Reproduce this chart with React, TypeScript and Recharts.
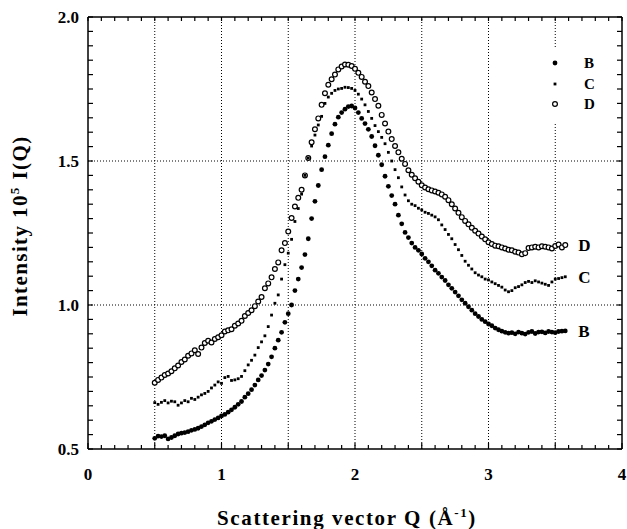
import React from 'react'
import { ScatterChart, Scatter, XAxis, YAxis, ReferenceLine, Label } from 'recharts'

// scattering vector Q (1/Å), one reading every 0.025
const Q = [
  0.5, 0.525, 0.55, 0.575, 0.6, 0.625, 0.65, 0.675, 0.7, 0.725,
  0.75, 0.775, 0.8, 0.825, 0.85, 0.875, 0.9, 0.925, 0.95, 0.975,
  1.0, 1.025, 1.05, 1.075, 1.1, 1.125, 1.15, 1.175, 1.2, 1.225,
  1.25, 1.275, 1.3, 1.325, 1.35, 1.375, 1.4, 1.425, 1.45, 1.475,
  1.5, 1.525, 1.55, 1.575, 1.6, 1.625, 1.65, 1.675, 1.7, 1.725,
  1.75, 1.775, 1.8, 1.825, 1.85, 1.875, 1.9, 1.925, 1.95, 1.975,
  2.0, 2.025, 2.05, 2.075, 2.1, 2.125, 2.15, 2.175, 2.2, 2.225,
  2.25, 2.275, 2.3, 2.325, 2.35, 2.375, 2.4, 2.425, 2.45, 2.475,
  2.5, 2.525, 2.55, 2.575, 2.6, 2.625, 2.65, 2.675, 2.7, 2.725,
  2.75, 2.775, 2.8, 2.825, 2.85, 2.875, 2.9, 2.925, 2.95, 2.975,
  3.0, 3.025, 3.05, 3.075, 3.1, 3.125, 3.15, 3.175, 3.2, 3.225,
  3.25, 3.275, 3.3, 3.325, 3.35, 3.375, 3.4, 3.425, 3.45, 3.475,
  3.5, 3.525, 3.55, 3.575,
]

const B = [
  0.537, 0.545, 0.543, 0.546, 0.535, 0.54, 0.546, 0.552, 0.555, 0.557,
  0.56, 0.565, 0.568, 0.572, 0.578, 0.584, 0.591, 0.596, 0.602, 0.608,
  0.615, 0.62, 0.628, 0.636, 0.645, 0.655, 0.665, 0.68, 0.692, 0.706,
  0.722, 0.74, 0.755, 0.774, 0.795, 0.82, 0.85, 0.878, 0.905, 0.94,
  0.97, 1.0, 1.05, 1.09, 1.13, 1.175, 1.23, 1.3, 1.36, 1.415,
  1.47, 1.515, 1.555, 1.595, 1.628, 1.652, 1.668, 1.68, 1.689, 1.691,
  1.684, 1.668, 1.648, 1.63, 1.61, 1.585, 1.553, 1.52, 1.487, 1.447,
  1.412, 1.38, 1.35, 1.312, 1.282, 1.252, 1.234, 1.215, 1.2, 1.19,
  1.177, 1.162, 1.15, 1.136, 1.121, 1.11, 1.097, 1.085, 1.07, 1.058,
  1.045, 1.032, 1.018, 1.006, 0.994, 0.982, 0.97, 0.96, 0.95, 0.942,
  0.934, 0.928, 0.92, 0.914, 0.909, 0.905, 0.902, 0.904, 0.9, 0.906,
  0.902, 0.899, 0.905, 0.908, 0.901, 0.906, 0.907, 0.903, 0.908, 0.906,
  0.904, 0.908, 0.909, 0.91,
]

const C = [
  0.661, 0.655, 0.662, 0.668, 0.66, 0.666, 0.664, 0.652, 0.66, 0.668,
  0.664, 0.676, 0.672, 0.68, 0.688, 0.693, 0.7, 0.712, 0.722, 0.733,
  0.728, 0.748, 0.752, 0.738, 0.74, 0.744, 0.752, 0.772, 0.792, 0.808,
  0.826, 0.852, 0.872, 0.893, 0.925, 0.965, 1.006, 1.035, 1.09, 1.14,
  1.18, 1.228, 1.29, 1.335, 1.385, 1.45, 1.51, 1.552, 1.59, 1.625,
  1.655, 1.7, 1.722, 1.735, 1.745, 1.75, 1.752, 1.756, 1.755, 1.752,
  1.745, 1.732, 1.715, 1.695, 1.672, 1.648, 1.623, 1.602, 1.582, 1.56,
  1.53, 1.5, 1.47, 1.442, 1.41, 1.382, 1.362, 1.35, 1.345, 1.336,
  1.33, 1.322, 1.318, 1.312, 1.306, 1.296, 1.278, 1.262, 1.245, 1.23,
  1.21, 1.192, 1.172, 1.152, 1.138, 1.125, 1.112, 1.104, 1.098, 1.09,
  1.087, 1.08, 1.074, 1.068, 1.062, 1.052, 1.046, 1.05, 1.06, 1.064,
  1.07, 1.078, 1.082, 1.078, 1.084, 1.08, 1.076, 1.072, 1.068, 1.08,
  1.09, 1.092, 1.095, 1.098,
]

const D = [
  0.73, 0.74, 0.748, 0.757, 0.762, 0.77, 0.78, 0.79, 0.802, 0.811,
  0.824, 0.832, 0.843, 0.83, 0.852, 0.868, 0.876, 0.87, 0.882, 0.888,
  0.895, 0.908, 0.912, 0.916, 0.928, 0.936, 0.945, 0.962, 0.972, 0.982,
  0.996, 1.012, 1.028, 1.058, 1.075, 1.096, 1.125, 1.148, 1.19, 1.215,
  1.255, 1.302, 1.342, 1.372, 1.4, 1.45, 1.51, 1.565, 1.61, 1.648,
  1.695, 1.735, 1.765, 1.784, 1.8, 1.818, 1.828, 1.835, 1.834, 1.83,
  1.82, 1.806, 1.792, 1.775, 1.76, 1.738, 1.715, 1.692, 1.66, 1.63,
  1.602, 1.576, 1.552, 1.53, 1.508, 1.49, 1.468, 1.452, 1.44, 1.428,
  1.416, 1.408, 1.402, 1.398, 1.394, 1.39, 1.384, 1.376, 1.364, 1.35,
  1.335, 1.32, 1.305, 1.292, 1.28, 1.268, 1.258, 1.248, 1.238, 1.228,
  1.218, 1.212, 1.206, 1.204, 1.2, 1.196, 1.192, 1.19, 1.185, 1.182,
  1.176, 1.18, 1.198, 1.2, 1.202, 1.2, 1.204, 1.202, 1.2, 1.196,
  1.205, 1.21, 1.2, 1.208,
]

const X_GRID = [0.5, 1, 1.5, 2, 2.5, 3, 3.5]
const Y_GRID = [1, 1.5]
const X_LABELS = [0, 1, 2, 3, 4]
const Y_LABELS = [0.5, 1, 1.5, 2]
const X_MINOR = Array.from({ length: 41 }, (_, i) => +(i * 0.1).toFixed(1))
const Y_MINOR = Array.from({ length: 31 }, (_, i) => +(0.5 + i * 0.05).toFixed(2))

const FONT = '"Liberation Serif", "Times New Roman", serif'
const LAST_Q = Q[Q.length - 1]

const W = 627
const H = 529
const M = { top: 17, right: 5, bottom: 79, left: 87 }
const PLOT_TOP = M.top
const PLOT_RIGHT = W - M.right
const X_MARGIN = 19
const Y_MARGIN = 9

const toPoints = (vals: number[]) => Q.map((q, i) => ({ q, v: vals[i] }))

function marker(kind: string, cx: number, cy: number) {
  if (kind === 'B') return <circle cx={cx} cy={cy} r={2.4} fill="#000" />
  if (kind === 'C') return <rect x={cx - 1.4} y={cy - 1.4} width={2.8} height={2.8} fill="#000" />
  return <circle cx={cx} cy={cy} r={2.4} fill="#fff" stroke="#000" strokeWidth={1.2} />
}

const makeShape = (kind: string) => (props: any) => {
  const { cx, cy, payload } = props
  return (
    <g>
      {marker(kind, cx, cy)}
      {payload && payload.q === LAST_Q && (
        <text x={cx + 13} y={cy + 6} fontFamily={FONT} fontWeight="bold" fontSize={17} fill="#000">
          {kind}
        </text>
      )}
    </g>
  )
}

const isHalf = (v: number) => Math.abs(v * 2 - Math.round(v * 2)) < 1e-6

// bottom ticks point up into the plot; the same tick also marks the top border
function XTick(props: any) {
  const { x, y, payload } = props
  const v = payload.value
  const ay = y - X_MARGIN
  const len = isHalf(v) ? 6 : 4
  return (
    <g>
      <line x1={x} x2={x} y1={ay} y2={ay - len} stroke="#000" strokeWidth={1.2} />
      <line x1={x} x2={x} y1={PLOT_TOP} y2={PLOT_TOP + 4} stroke="#000" strokeWidth={1.2} />
      {X_LABELS.some((l) => Math.abs(l - v) < 1e-6) && (
        <text x={x} y={y} dy="0.71em" textAnchor="middle" fontFamily={FONT} fontWeight="bold" fontSize={17} fill="#000">
          {v}
        </text>
      )}
    </g>
  )
}

function YTick(props: any) {
  const { x, y, payload } = props
  const v = payload.value
  const ax = x + Y_MARGIN
  return (
    <g>
      <line x1={ax} x2={ax + 5} y1={y} y2={y} stroke="#000" strokeWidth={1.2} />
      <line x1={PLOT_RIGHT - 5} x2={PLOT_RIGHT} y1={y} y2={y} stroke="#000" strokeWidth={1.2} />
      {Y_LABELS.some((l) => Math.abs(l - v) < 1e-6) && (
        <text x={x} y={y} dy="0.36em" textAnchor="end" fontFamily={FONT} fontWeight="bold" fontSize={17} fill="#000">
          {v.toFixed(1)}
        </text>
      )}
    </g>
  )
}

const SERIES = [
  { name: 'D', values: D },
  { name: 'C', values: C },
  { name: 'B', values: B },
]

const LEGEND = ['B', 'C', 'D']

const axisLine = { stroke: '#000', strokeWidth: 1.5 }

export default function App() {
  return (
    <div style={{ position: 'absolute', left: 0, top: 0, width: W, height: H, background: '#fff' }}>
      <ScatterChart width={W} height={H} margin={M}>
        {X_GRID.map((g) => (
          <ReferenceLine key={'x' + g} x={g} stroke="#000" strokeDasharray="1 2" />
        ))}
        {Y_GRID.map((g) => (
          <ReferenceLine key={'y' + g} y={g} stroke="#000" strokeDasharray="1 2" />
        ))}
        <ReferenceLine y={2} stroke="#000" strokeWidth={1.5} />
        <ReferenceLine x={4} stroke="#000" strokeWidth={1.5} />

        <XAxis type="number" dataKey="q" domain={[0, 4]} ticks={X_MINOR} interval={0} height={1} axisLine={axisLine}
          tickLine={false} tickSize={0} tickMargin={X_MARGIN} tick={XTick}>
          <Label content={() => (
            <text x={347} y={525} textAnchor="middle" fontFamily={FONT} fontWeight="bold" fontSize={21}
              letterSpacing={1.6} fill="#000">
              Scattering vector Q (Å<tspan dy={-8} fontSize={13}>-1</tspan><tspan dy={8}>)</tspan>
            </text>
          )} />
        </XAxis>
        <YAxis type="number" dataKey="v" domain={[0.5, 2]} ticks={Y_MINOR} interval={0} width={1} axisLine={axisLine}
          tickLine={false} tickSize={0} tickMargin={Y_MARGIN} tick={YTick}>
          <Label content={() => (
            <text transform="translate(27,226) rotate(-90)" textAnchor="middle" fontFamily={FONT} fontWeight="bold"
              fontSize={21} letterSpacing={1.4} fill="#000">
              Intensity 10<tspan dy={-8} fontSize={13}>5</tspan><tspan dy={8}> I(Q)</tspan>
            </text>
          )} />
        </YAxis>

        {SERIES.map((s) => (
          <Scatter key={s.name} name={s.name} data={toPoints(s.values)} shape={makeShape(s.name)}
            isAnimationActive={false} />
        ))}
      </ScatterChart>

      <div style={{ position: 'absolute', left: 546, top: 47, width: 62, height: 75, background: '#fff' }}>
        {LEGEND.map((name, i) => (
          <div key={name} style={{ position: 'absolute', left: 0, top: 6 + i * 20.5, height: 20, width: 62 }}>
            <svg width={20} height={20} style={{ position: 'absolute', left: 0, top: 0 }}>
              {marker(name, 9, 10)}
            </svg>
            <span style={{ position: 'absolute', left: 38, top: 1, fontFamily: FONT, fontWeight: 'bold', fontSize: 15, lineHeight: '18px' }}>
              {name}
            </span>
          </div>
        ))}
      </div>
    </div>
  )
}
